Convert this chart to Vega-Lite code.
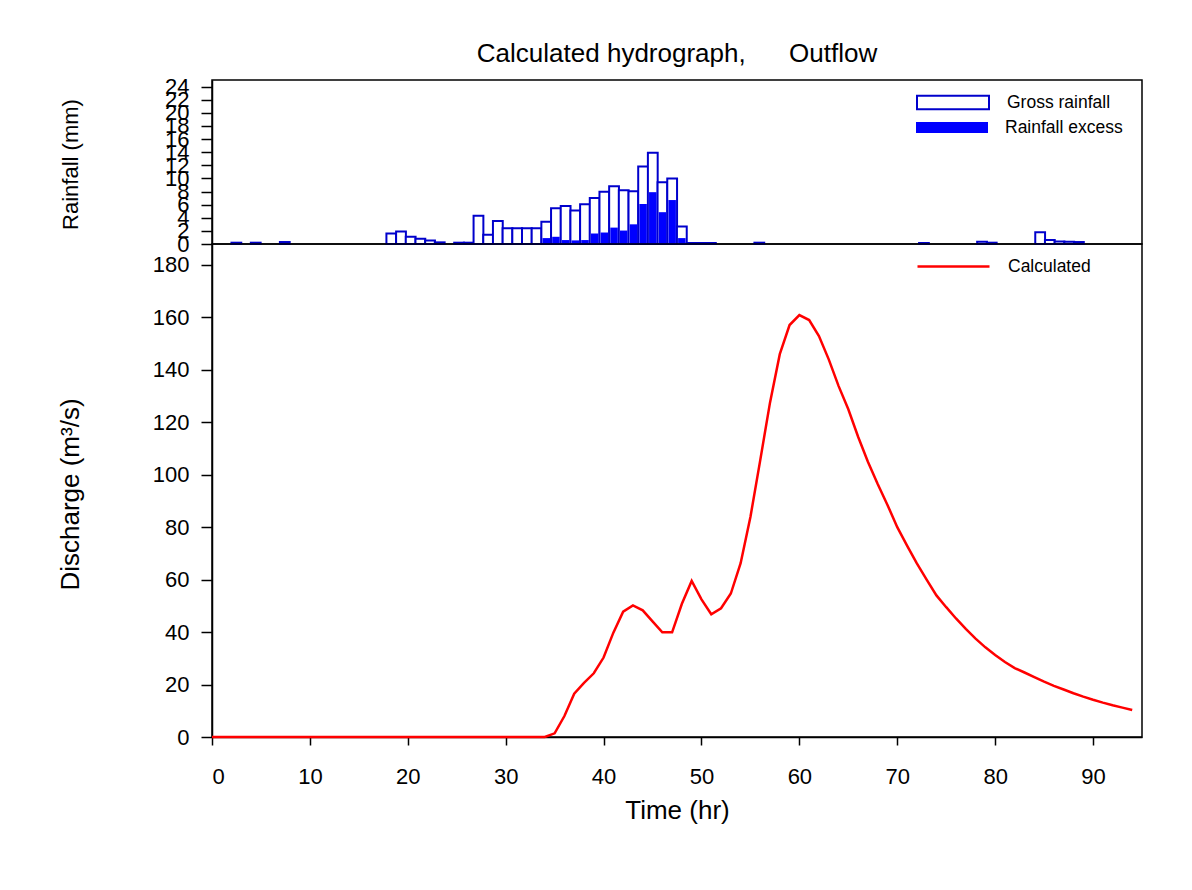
{
  "$schema": "https://vega.github.io/schema/vega-lite/v6.json",
  "background": "white",
  "padding": {"left": 56, "top": 39, "right": 5, "bottom": 5},
  "spacing": 0,
  "bounds": "flush",
  "config": {
    "view": {"stroke": "black", "strokeWidth": 1.5},
    "font": "Liberation Sans",
    "axis": {
      "grid": false,
      "domainColor": "black",
      "domainWidth": 1.5,
      "tickColor": "black",
      "tickWidth": 1.5,
      "labelColor": "black",
      "titleColor": "black",
      "labelFont": "Liberation Sans",
      "labelFontSize": 22,
      "titleFont": "Liberation Sans",
      "titleFontSize": 26,
      "titleFontWeight": "normal",
      "labelOverlap": false
    },
    "legend": {
      "labelFont": "Liberation Sans",
      "labelFontSize": 17.5,
      "labelColor": "black",
      "padding": 0,
      "title": null
    }
  },
  "datasets": {
    "rain": [
      {"t": 2, "gross": 0.2, "excess": 0},
      {"t": 4, "gross": 0.2, "excess": 0},
      {"t": 7, "gross": 0.3, "excess": 0},
      {"t": 18, "gross": 1.6, "excess": 0},
      {"t": 19, "gross": 1.9, "excess": 0},
      {"t": 20, "gross": 1.1, "excess": 0},
      {"t": 21, "gross": 0.8, "excess": 0},
      {"t": 22, "gross": 0.55, "excess": 0},
      {"t": 23, "gross": 0.25, "excess": 0},
      {"t": 25, "gross": 0.2, "excess": 0},
      {"t": 26, "gross": 0.2, "excess": 0},
      {"t": 27, "gross": 4.3, "excess": 0},
      {"t": 28, "gross": 1.4, "excess": 0},
      {"t": 29, "gross": 3.5, "excess": 0},
      {"t": 30, "gross": 2.4, "excess": 0},
      {"t": 31, "gross": 2.4, "excess": 0},
      {"t": 32, "gross": 2.4, "excess": 0},
      {"t": 33, "gross": 2.4, "excess": 0},
      {"t": 34, "gross": 3.4, "excess": 0.9},
      {"t": 35, "gross": 5.45, "excess": 1.1},
      {"t": 36, "gross": 5.8, "excess": 0.6},
      {"t": 37, "gross": 5.1, "excess": 0.55},
      {"t": 38, "gross": 6.05, "excess": 0.6},
      {"t": 39, "gross": 7.0, "excess": 1.6},
      {"t": 40, "gross": 7.95, "excess": 1.75},
      {"t": 41, "gross": 8.8, "excess": 2.5},
      {"t": 42, "gross": 8.2, "excess": 2.05},
      {"t": 43, "gross": 8.05, "excess": 3.0},
      {"t": 44, "gross": 11.8, "excess": 6.1},
      {"t": 45, "gross": 13.9, "excess": 7.9},
      {"t": 46, "gross": 9.4, "excess": 4.85},
      {"t": 47, "gross": 10.0, "excess": 6.7},
      {"t": 48, "gross": 2.65, "excess": 0.9},
      {"t": 49, "gross": 0.15, "excess": 0},
      {"t": 50, "gross": 0.15, "excess": 0},
      {"t": 51, "gross": 0.15, "excess": 0},
      {"t": 56, "gross": 0.2, "excess": 0},
      {"t": 73, "gross": 0.15, "excess": 0},
      {"t": 79, "gross": 0.35, "excess": 0},
      {"t": 80, "gross": 0.2, "excess": 0},
      {"t": 85, "gross": 1.8, "excess": 0},
      {"t": 86, "gross": 0.6, "excess": 0},
      {"t": 87, "gross": 0.4, "excess": 0},
      {"t": 88, "gross": 0.35, "excess": 0},
      {"t": 89, "gross": 0.3, "excess": 0}
    ],
    "flow": [
      {"t": 0, "q": 0}, {"t": 1, "q": 0}, {"t": 2, "q": 0}, {"t": 3, "q": 0}, {"t": 4, "q": 0},
      {"t": 5, "q": 0}, {"t": 6, "q": 0}, {"t": 7, "q": 0}, {"t": 8, "q": 0}, {"t": 9, "q": 0},
      {"t": 10, "q": 0}, {"t": 11, "q": 0}, {"t": 12, "q": 0}, {"t": 13, "q": 0}, {"t": 14, "q": 0},
      {"t": 15, "q": 0}, {"t": 16, "q": 0}, {"t": 17, "q": 0}, {"t": 18, "q": 0}, {"t": 19, "q": 0},
      {"t": 20, "q": 0}, {"t": 21, "q": 0}, {"t": 22, "q": 0}, {"t": 23, "q": 0}, {"t": 24, "q": 0},
      {"t": 25, "q": 0}, {"t": 26, "q": 0}, {"t": 27, "q": 0}, {"t": 28, "q": 0}, {"t": 29, "q": 0},
      {"t": 30, "q": 0}, {"t": 31, "q": 0}, {"t": 32, "q": 0}, {"t": 33, "q": 0}, {"t": 34, "q": 0},
      {"t": 35, "q": 1.4}, {"t": 36, "q": 8.0}, {"t": 37, "q": 16.5}, {"t": 38, "q": 20.6}, {"t": 39, "q": 24.3},
      {"t": 40, "q": 30.3}, {"t": 41, "q": 39.8}, {"t": 42, "q": 47.8}, {"t": 43, "q": 50.2}, {"t": 44, "q": 48.3},
      {"t": 45, "q": 44.1}, {"t": 46, "q": 39.9}, {"t": 47, "q": 39.9}, {"t": 48, "q": 50.8}, {"t": 49, "q": 59.5},
      {"t": 50, "q": 52.5}, {"t": 51, "q": 46.8}, {"t": 52, "q": 49.1}, {"t": 53, "q": 54.7}, {"t": 54, "q": 66.3},
      {"t": 55, "q": 83.9}, {"t": 56, "q": 105.5}, {"t": 57, "q": 127.5}, {"t": 58, "q": 146.0}, {"t": 59, "q": 157.1},
      {"t": 60, "q": 160.9}, {"t": 61, "q": 159.0}, {"t": 62, "q": 152.9}, {"t": 63, "q": 144.0}, {"t": 64, "q": 133.9},
      {"t": 65, "q": 125.0}, {"t": 66, "q": 114.5}, {"t": 67, "q": 105.0}, {"t": 68, "q": 96.5}, {"t": 69, "q": 88.5},
      {"t": 70, "q": 80.0}, {"t": 71, "q": 73.0}, {"t": 72, "q": 66.2}, {"t": 73, "q": 60.0}, {"t": 74, "q": 54.0},
      {"t": 75, "q": 49.5}, {"t": 76, "q": 45.2}, {"t": 77, "q": 41.2}, {"t": 78, "q": 37.5}, {"t": 79, "q": 34.2},
      {"t": 80, "q": 31.3}, {"t": 81, "q": 28.6}, {"t": 82, "q": 26.3}, {"t": 83, "q": 24.6}, {"t": 84, "q": 22.8},
      {"t": 85, "q": 21.1}, {"t": 86, "q": 19.5}, {"t": 87, "q": 18.1}, {"t": 88, "q": 16.7}, {"t": 89, "q": 15.4},
      {"t": 90, "q": 14.2}, {"t": 91, "q": 13.1}, {"t": 92, "q": 12.1}, {"t": 93, "q": 11.2}, {"t": 94, "q": 10.3}
    ]
  },
  "resolve": {
    "scale": {"fill": "independent", "stroke": "independent"},
    "legend": {"fill": "independent", "stroke": "independent"}
  },
  "vconcat": [
    {
      "width": 930,
      "height": 164,
      "title": {
        "text": "Calculated hydrograph,\u00a0\u00a0\u00a0\u00a0\u00a0 Outflow",
        "frame": "group",
        "anchor": "middle",
        "baseline": "alphabetic",
        "offset": -12,
        "fontSize": 26,
        "fontWeight": "normal",
        "font": "Liberation Sans",
        "color": "black"
      },
      "data": {"name": "rain"},
      "resolve": {"scale": {"fill": "independent"}, "legend": {"fill": "independent"}},
      "encoding": {
        "x": {"field": "t", "type": "quantitative", "scale": {"domain": [0, 95], "nice": false, "zero": false}, "axis": null}
      },
      "layer": [
        {
          "mark": {"type": "bar", "size": 9.8, "stroke": "#0000CC", "strokeWidth": 2},
          "encoding": {
            "y": {
              "field": "gross", "type": "quantitative",
              "title": "Rainfall (mm)",
              "scale": {"domain": [0, 25], "nice": false},
              "axis": {
                "title": "Rainfall (mm)",
                "values": [0, 2, 4, 6, 8, 10, 12, 14, 16, 18, 20, 22, 24],
                "tickSize": 11,
                "labelPadding": 12,
                "titleFontSize": 22,
                "titleAngle": -90,
                "titleBaseline": "alphabetic",
                "titleAlign": "center",
                "titleX": -135,
                "titleY": 84
              }
            },
            "fill": {
              "datum": "Gross rainfall",
              "scale": {"range": ["white"]},
              "legend": {
                "orient": "none", "legendX": 731, "legendY": 12.5,
                "symbolType": "M-4,-0.75H4V0.75H-4Z", "symbolSize": 324,
                "symbolStrokeColor": "#0000CC", "symbolStrokeWidth": 2,
                "labelOffset": 44
              }
            }
          }
        },
        {
          "mark": {"type": "bar", "size": 7.5},
          "encoding": {
            "y": {
              "field": "excess", "type": "quantitative",
              "title": "Rainfall (mm)",
              "axis": {
                "title": "Rainfall (mm)",
                "values": [0, 2, 4, 6, 8, 10, 12, 14, 16, 18, 20, 22, 24],
                "tickSize": 11,
                "labelPadding": 12,
                "titleFontSize": 22,
                "titleAngle": -90,
                "titleBaseline": "alphabetic",
                "titleAlign": "center",
                "titleX": -135,
                "titleY": 84
              }
            },
            "fill": {
              "datum": "Rainfall excess",
              "scale": {"range": ["#0000FF"]},
              "legend": {
                "orient": "none", "legendX": 731, "legendY": 38.5,
                "symbolType": "M-4,-0.6H4V0.6H-4Z", "symbolSize": 324,
                "symbolStrokeColor": "#0000FF", "symbolStrokeWidth": 0,
                "labelOffset": 44
              }
            }
          }
        }
      ]
    },
    {
      "width": 930,
      "height": 493,
      "data": {"name": "flow"},
      "mark": {"type": "line", "strokeWidth": 2.5},
      "encoding": {
        "x": {
          "field": "t", "type": "quantitative",
          "scale": {"domain": [0, 95], "nice": false, "zero": false},
          "axis": {
            "title": "Time (hr)",
            "values": [0, 10, 20, 30, 40, 50, 60, 70, 80, 90],
            "tickSize": 8,
            "labelBaseline": "alphabetic",
            "labelPadding": 38,
            "titleBaseline": "alphabetic",
            "titleX": 465,
            "titleY": 81
          }
        },
        "y": {
          "field": "q", "type": "quantitative",
          "scale": {"domain": [0, 188], "nice": false},
          "axis": {
            "title": "Discharge (m³/s)",
            "values": [0, 20, 40, 60, 80, 100, 120, 140, 160, 180],
            "tickSize": 11,
            "labelPadding": 12,
            "titleAngle": -90,
            "titleBaseline": "alphabetic",
            "titleAlign": "center",
            "titleX": -134,
            "titleY": 250
          }
        },
        "stroke": {
          "datum": "Calculated",
          "scale": {"range": ["#FF0000"]},
          "legend": {
            "orient": "none", "legendX": 731, "legendY": 12,
            "symbolType": "M-4,0H4", "symbolSize": 324,
            "symbolStrokeWidth": 2.5,
            "labelOffset": 44
          }
        }
      }
    }
  ]
}
